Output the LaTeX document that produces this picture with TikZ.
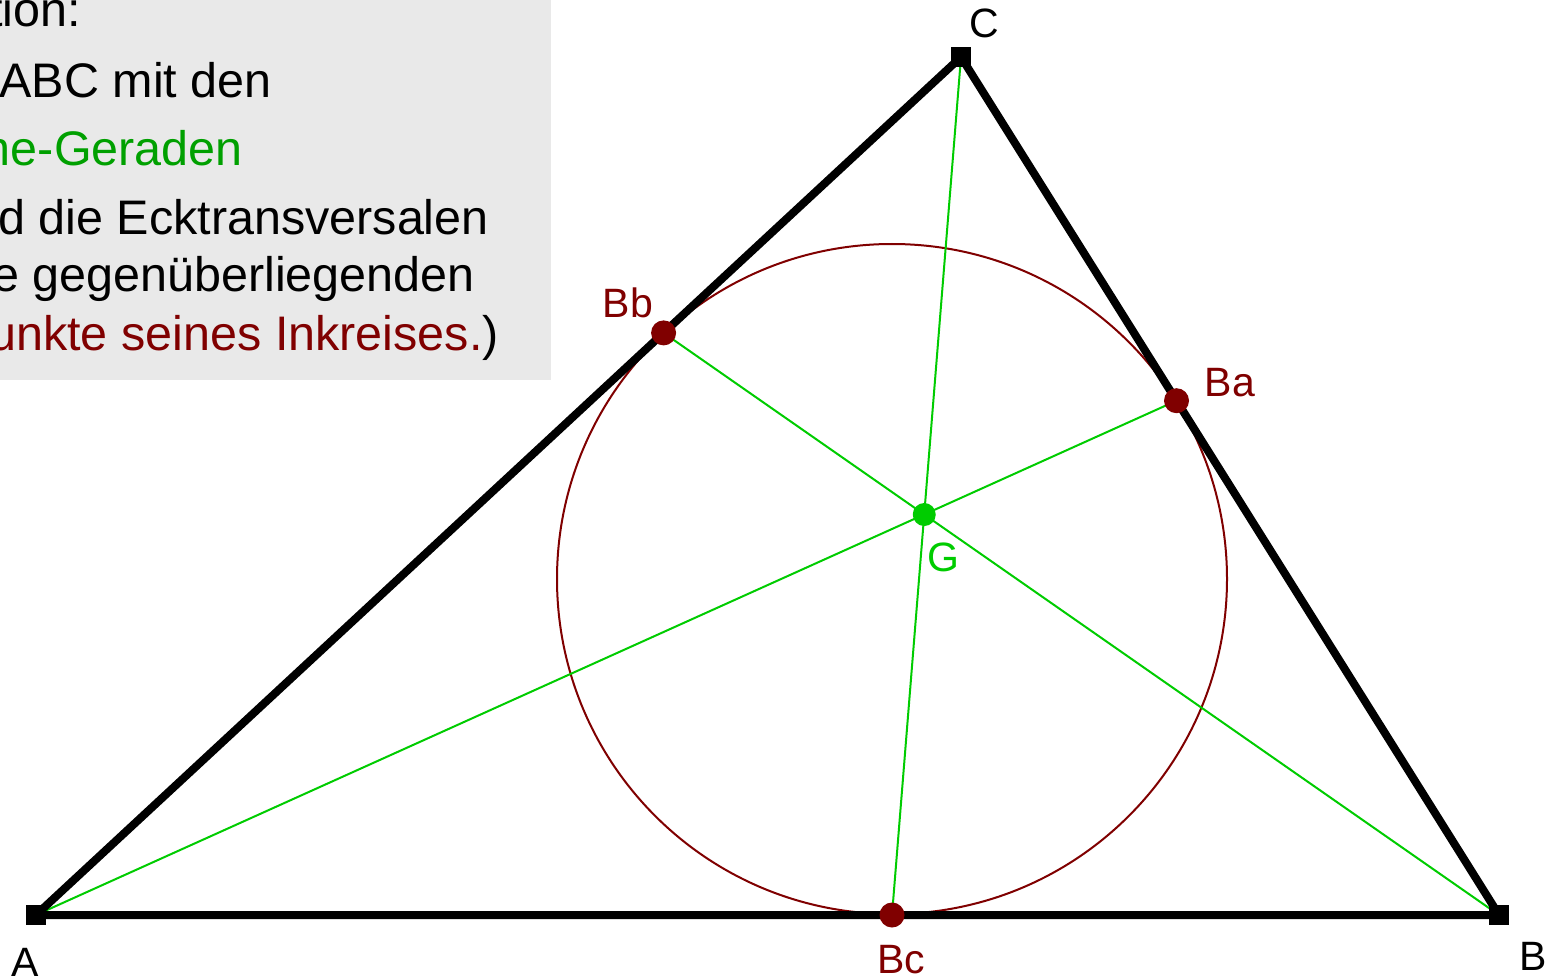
\documentclass[tikz,border=0pt]{standalone}
\usepackage{fontspec}
\setmainfont{Liberation Sans}
\definecolor{boxgray}{RGB}{233,233,233}
\definecolor{geogreen}{RGB}{0,204,0}
\definecolor{textgreen}{RGB}{0,160,0}
\definecolor{darkred}{RGB}{128,0,0}
\begin{document}
\begin{tikzpicture}[x=1pt,y=-1pt,
  side/.style={line width=8pt, line join=round},
  cevian/.style={geogreen, line width=2pt},
  incircle/.style={darkred, line width=2pt},
  vertexbox/.style={rectangle, fill=black, minimum size=20pt, inner sep=0pt},
  touchdot/.style={circle, fill=darkred, minimum size=25pt, inner sep=0pt},
  gdot/.style={circle, fill=geogreen, minimum size=23pt, inner sep=0pt},
  ptlabel/.style={font=\fontsize{41}{48}\selectfont, anchor=base, inner sep=0pt},
  infotext/.style={font=\fontsize{48.5}{58}\selectfont, anchor=base east, inner sep=0pt}]
\useasboundingbox (0,0) rectangle (1550,976);
\clip (0,0) rectangle (1550,976);
\fill[white] (0,0) rectangle (1550,976);
% info box
\fill[boxgray] (0,0) rectangle (551,380);
\node[infotext] (t1) at (81,27) {tion:};
\node[infotext] (t2) at (272,98) {ABC mit den};
\node[infotext, text=textgreen] (t3) at (243,166) {ne-Geraden};
\node[infotext] (t4) at (489,235) {nd die Ecktransversalen};
\node[infotext] (t5) at (475,291) {e gegenüberliegenden};
\node[infotext] (t6) at (499,350) {{\color{darkred}unkte seines Inkreises.})};
% geometry
\coordinate (A) at (36,915);
\coordinate (B) at (1499,915);
\coordinate (C) at (961,57);
\coordinate (I) at (892,579);
\coordinate (Bb) at (663.6,332.9);
\coordinate (Ba) at (1176.5,400.7);
\coordinate (Bc) at (892,915);
\coordinate (G) at (intersection of A--Ba and C--Bc);
\draw[incircle] (I) circle[radius=335pt];
\draw[cevian] (A) -- (Ba);
\draw[cevian] (B) -- (Bb);
\draw[cevian] (C) -- (Bc);
\draw[side] (A) -- (B) -- (C) -- cycle;
\node[touchdot] (dBb) at (Bb) {};
\node[touchdot] (dBa) at (Ba) {};
\node[touchdot] (dBc) at (Bc) {};
\node[gdot] (dG) at (G) {};
\node[vertexbox] (sA) at (A) {};
\node[vertexbox] (sB) at (B) {};
\node[vertexbox] (sC) at (C) {};
% labels
\node[ptlabel] (lC) at (984,38) {C};
\node[ptlabel, text=darkred] (lBb) at (628,318) {Bb};
\node[ptlabel, text=darkred] (lBa) at (1230,396) {Ba};
\node[ptlabel, text=geogreen] (lG) at (943,571) {G};
\node[ptlabel] (lA) at (25,976) {A};
\node[ptlabel, text=darkred] (lBc) at (901,973) {Bc};
\node[ptlabel] (lB) at (1533,970) {B};
\end{tikzpicture}
\end{document}
